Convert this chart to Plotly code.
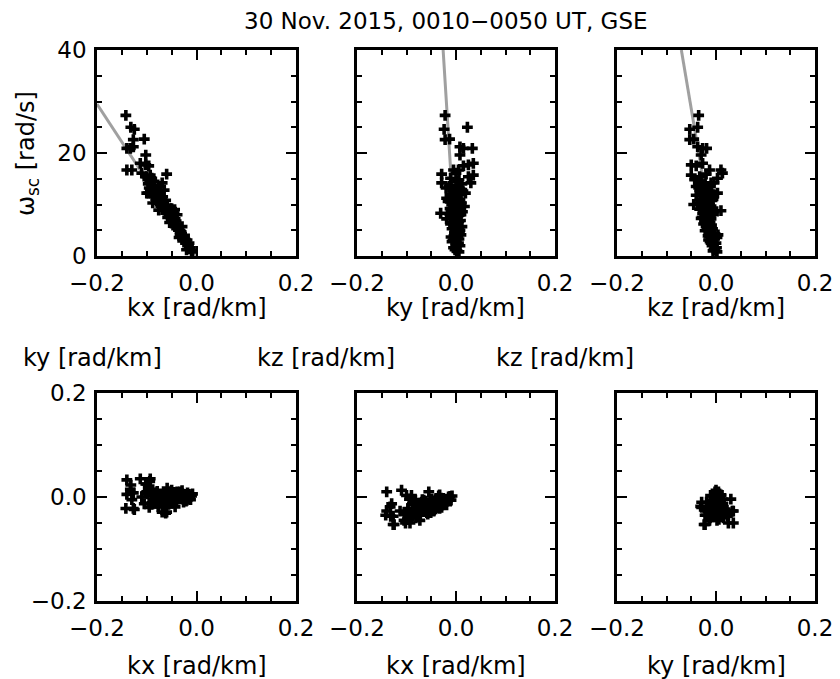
import plotly.graph_objects as go

# ---------------- data ----------------
omega = [27.3, 25.0, 24.6, 22.7, 22.6, 21.2, 20.9, 20.9, 19.6,
         18.0, 17.7, 17.5, 16.7, 16.7, 16.1, 15.9, 15.7, 15.4, 15.1, 14.8, 14.5, 14.2, 14.2,
         13.8, 13.5, 13.5, 13.0, 12.8, 12.8, 12.5, 12.2, 12.2, 12.0, 11.5, 11.5, 11.2, 10.9, 10.8, 10.5, 10.3, 10.3,
         9.9, 9.6, 9.5, 9.3, 9.2, 9.0, 8.9, 8.8, 8.3, 8.3, 8.0, 8.0, 7.6, 7.5, 7.2, 6.8, 6.7, 6.5,
         6.0, 5.7, 5.7, 5.3, 5.0, 4.6, 4.1, 4.0, 3.7, 3.6, 3.3, 3.1, 2.5, 2.5, 2.0, 1.6, 1.2, 1.0,
         14.0, 13.2, 12.6, 11.8, 11.0, 10.6, 10.0, 9.7, 9.1, 8.6, 8.2, 7.8,
         7.3, 6.9, 6.2, 5.5, 4.9, 4.3, 3.9, 3.4, 2.8, 2.2, 1.4, 0.8]
kx = [-0.142, -0.132, -0.125, -0.105, -0.127, -0.127, -0.140, -0.133, -0.102,
      -0.113, -0.102, -0.096, -0.140, -0.130, -0.110, -0.060, -0.093, -0.100, -0.090, -0.098, -0.085, -0.069, -0.094,
      -0.086, -0.072, -0.090, -0.080, -0.065, -0.091, -0.083, -0.097, -0.100, -0.075, -0.085, -0.068, -0.077, -0.072, -0.062, -0.070, -0.079, -0.088,
      -0.060, -0.059, -0.068, -0.065, -0.050, -0.044, -0.076, -0.055, -0.062, -0.045, -0.052, -0.039, -0.047, -0.058, -0.043, -0.041, -0.049, -0.054,
      -0.038, -0.043, -0.029, -0.040, -0.036, -0.031, -0.033, -0.024, -0.026, -0.035, -0.028, -0.019, -0.015, -0.022, -0.018, -0.012, -0.020, -0.010,
      -0.097, -0.095, -0.088, -0.081, -0.082, -0.066, -0.073, -0.064, -0.057, -0.050, -0.056, -0.049,
      -0.051, -0.045, -0.044, -0.035, -0.033, -0.030, -0.029, -0.024, -0.021, -0.016, -0.014, -0.008]
ky = [-0.022, 0.023, -0.024, -0.013, -0.022, 0.008, 0.033, 0.015, 0.008,
      0.035, 0.025, 0.015, 0.005, -0.005, 0.000, -0.029, 0.035, 0.025, -0.011, 0.006, 0.003, -0.029, 0.030,
      -0.010, 0.000, -0.014, 0.008, -0.002, 0.005, -0.005, 0.019, 0.010, -0.008, 0.002, -0.001, -0.019, 0.006, -0.003, 0.004, 0.011, -0.005,
      -0.005, 0.017, 0.000, 0.004, -0.012, 0.001, -0.010, -0.002, -0.031, -0.003, 0.008, 0.010, -0.008, 0.002, -0.019, 0.006, 0.005, -0.006,
      0.003, -0.005, 0.012, -0.008, 0.008, -0.003, 0.010, 0.004, -0.010, 0.001, 0.006, -0.006, 0.005, 0.000, 0.008, -0.005, -0.002, 0.002,
      0.012, -0.020, 0.014, -0.012, 0.008, -0.016, 0.002, 0.009, -0.007, 0.013, -0.014, 0.004,
      -0.004, 0.009, -0.011, 0.006, -0.002, 0.007, -0.004, 0.003, -0.008, 0.004, 0.000, 0.006]
kz = [-0.035, -0.037, -0.053, -0.045, -0.053, -0.037, -0.027, -0.019, -0.030,
      -0.027, -0.050, -0.040, 0.010, -0.013, 0.013, -0.020, -0.050, -0.033, 0.003, -0.043, -0.030, -0.010, -0.004,
      -0.026, -0.012, -0.040, -0.020, -0.016, -0.030, -0.010, -0.023, 0.003, -0.028, -0.015, -0.005, -0.025, -0.032, -0.008, -0.018, -0.022, -0.037,
      -0.017, -0.030, -0.023, -0.006, -0.013, -0.008, -0.025, 0.010, -0.018, -0.027, -0.005, -0.020, -0.015, -0.028, -0.010, -0.023, -0.021, -0.012,
      -0.009, -0.017, -0.020, -0.007, -0.018, -0.012, 0.004, -0.005, -0.013, 0.002, -0.003, -0.015, 0.000, -0.010, -0.008, 0.001, -0.004, -0.006,
      -0.022, -0.035, -0.012, -0.040, -0.006, -0.028, -0.045, -0.010, -0.033, -0.004, -0.024, -0.017,
      -0.030, -0.014, -0.025, -0.011, -0.022, -0.002, -0.016, -0.009, -0.012, -0.005, -0.002, 0.002]

# gray reference lines (end points)
fit_kx = [-0.200, 0.0]
fit_wx = [29.5, 0.0]
fit_ky = [-0.026, 0.0]
fit_wy = [40.0, 0.0]
fit_kz = [-0.070, 0.0]
fit_wz = [40.0, 0.0]

k_ticks = [-0.2, 0.0, 0.2]
w_ticks = [0, 20, 40]

title_text = "30 Nov. 2015, 0010\u22120050 UT, GSE"
x_titles = ["kx [rad/km]", "ky [rad/km]", "kz [rad/km]", "kx [rad/km]", "kx [rad/km]", "ky [rad/km]"]
y_titles_bottom = ["ky [rad/km]", "kz [rad/km]", "kz [rad/km]"]
y_title_top = "\u03c9<sub>sc</sub> [rad/s]"

# ---------------- layout helpers ----------------
W, H = 840, 679
FONT = "DejaVu Sans"
FS_TICK = 23
FS_TITLE = 23
FS_LAB = 24


def fx(p):
    return p / W


def fy(p):
    return 1 - p / H


xdoms = [(97, 296), (357, 555), (617, 815)]
ydoms = [(50, 256), (393, 601)]

panels = [
    (kx, omega, fit_kx, fit_wx),
    (ky, omega, fit_ky, fit_wy),
    (kz, omega, fit_kz, fit_wz),
    (kx, ky, None, None),
    (kx, kz, None, None),
    (ky, kz, None, None),
]

fig = go.Figure()
layout = dict(
    width=W, height=H,
    margin=dict(l=0, r=0, t=0, b=0, pad=0, autoexpand=False),
    paper_bgcolor="white", plot_bgcolor="white",
    showlegend=False,
    font=dict(family=FONT, size=FS_TICK, color="black"),
)

for i, (xs, ys, lx, ly) in enumerate(panels):
    n = i + 1
    row, col = divmod(i, 3)
    xa = "x" if n == 1 else f"x{n}"
    ya = "y" if n == 1 else f"y{n}"
    if lx is not None:
        fig.add_trace(go.Scatter(x=lx, y=ly, mode="lines", xaxis=xa, yaxis=ya,
                                 line=dict(color="#a0a0a0", width=3), hoverinfo="skip"))
    fig.add_trace(go.Scatter(x=xs, y=ys, mode="markers", xaxis=xa, yaxis=ya,
                             marker=dict(symbol="cross", size=9, color="black",
                                         line=dict(width=0))))
    x0, x1 = xdoms[col]
    y0, y1 = ydoms[row]
    common = dict(showline=True, linewidth=2.5, linecolor="black", mirror="ticks",
                  ticks="inside", ticklen=10, tickwidth=2, tickcolor="black",
                  showgrid=False, zeroline=False, automargin=False,
                  tickfont=dict(family=FONT, size=FS_TICK, color="black"))
    xaxis = dict(common, domain=[fx(x0), fx(x1)], range=[-0.2, 0.2],
                 anchor=ya, tickmode="array", tickvals=k_ticks, tickformat=".1f",
                 minor=dict(ticks="inside", dtick=0.05, tick0=-0.2, ticklen=5,
                            tickwidth=2, tickcolor="black", showgrid=False),
                 ticklabelstandoff=5)
    if row == 0:
        yaxis = dict(common, domain=[fy(y1), fy(y0)], range=[0, 40], anchor=xa,
                     tickmode="array", tickvals=w_ticks,
                     minor=dict(ticks="inside", dtick=5, tick0=0, ticklen=5,
                                tickwidth=2, tickcolor="black", showgrid=False))
    else:
        yaxis = dict(common, domain=[fy(y1), fy(y0)], range=[-0.2, 0.2], anchor=xa,
                     tickmode="array", tickvals=k_ticks, tickformat=".1f",
                     minor=dict(ticks="inside", dtick=0.05, tick0=-0.2, ticklen=5,
                                tickwidth=2, tickcolor="black", showgrid=False))
    yaxis["showticklabels"] = (col == 0)
    yaxis["ticklabelstandoff"] = 3
    layout["xaxis" if n == 1 else f"xaxis{n}"] = xaxis
    layout["yaxis" if n == 1 else f"yaxis{n}"] = yaxis

fig.update_layout(**layout)

ann = []
ann.append(dict(text=title_text, x=fx(446), y=fy(21), xref="paper", yref="paper",
                xanchor="center", yanchor="middle", showarrow=False,
                font=dict(family=FONT, size=FS_TITLE, color="black")))
centers = [197, 456, 716]
for i, t in enumerate(x_titles):
    row, col = divmod(i, 3)
    yy = 308 if row == 0 else 666
    ann.append(dict(text=t, x=fx(centers[col]), y=fy(yy), xref="paper", yref="paper",
                    xanchor="center", yanchor="middle", showarrow=False,
                    font=dict(family=FONT, size=FS_LAB, color="black")))
for cx, t in zip([92, 326, 565], y_titles_bottom):
    ann.append(dict(text=t, x=fx(cx), y=fy(358), xref="paper", yref="paper",
                    xanchor="center", yanchor="middle", showarrow=False,
                    font=dict(family=FONT, size=FS_LAB, color="black")))
ann.append(dict(text=y_title_top, x=fx(28), y=fy(154), xref="paper", yref="paper",
                xanchor="center", yanchor="middle", textangle=-90, showarrow=False,
                font=dict(family=FONT, size=FS_LAB, color="black")))
fig.update_layout(annotations=ann)

fig.write_html("out.html")
